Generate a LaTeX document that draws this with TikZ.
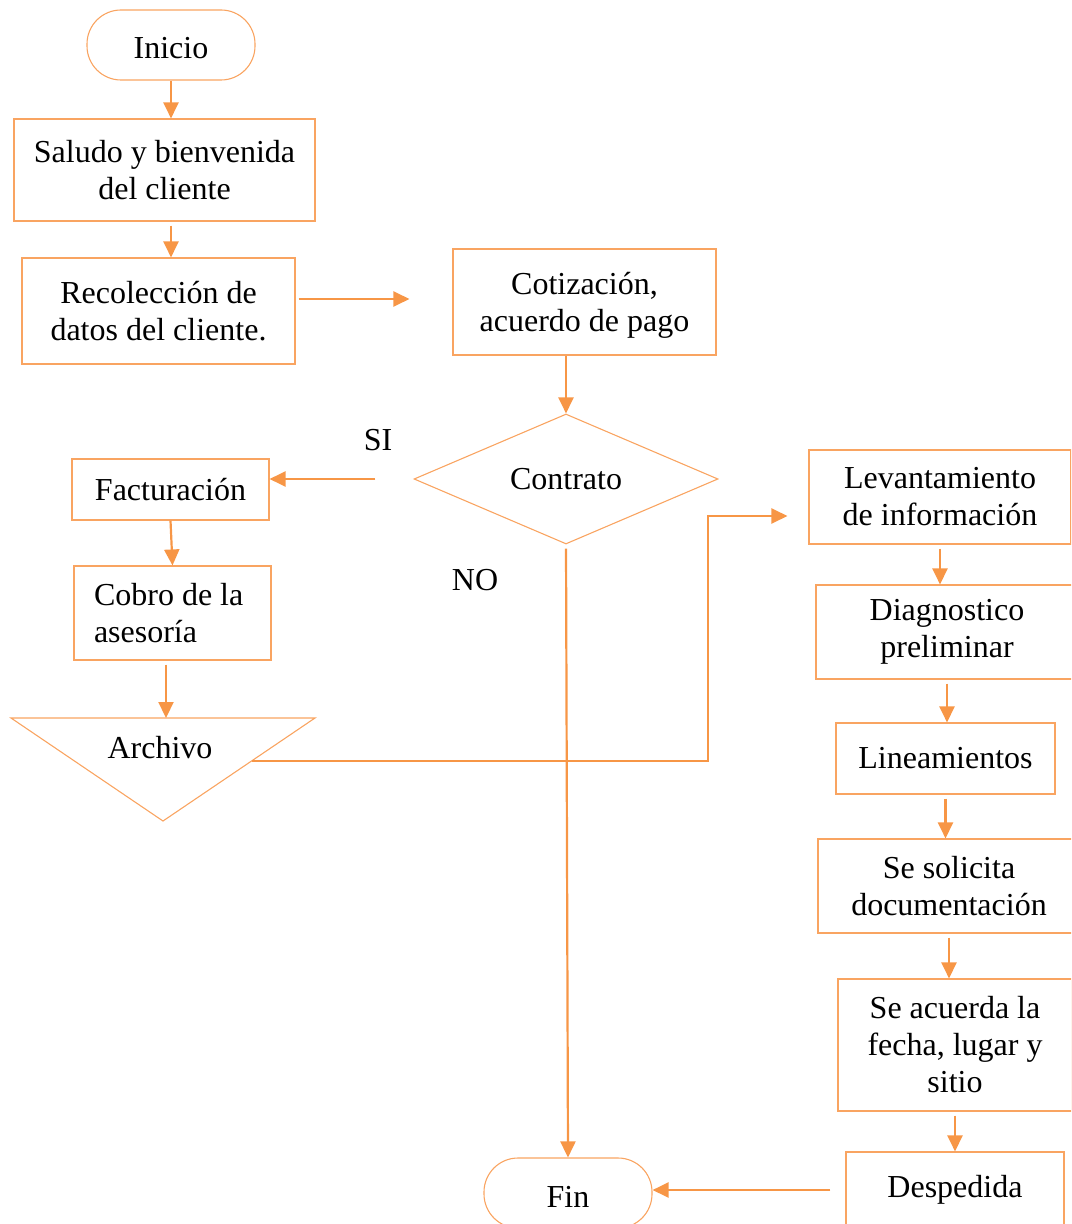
\documentclass[tikz,border=0pt]{standalone}
\usepackage{fontspec}
\setmainfont{Liberation Serif}
\usetikzlibrary{arrows.meta,positioning,shapes.geometric}
\definecolor{flowOrange}{HTML}{F79646}
\definecolor{boxOrange}{HTML}{F9A461}
\tikzset{
  >={Triangle[length=8pt,width=7.5pt]},
  box/.style={rectangle, draw=boxOrange, line width=0.55pt, align=center, inner sep=2pt},
  term/.style={box, rounded corners=17pt, text height=14pt, text depth=0pt},
  flow/.style={->, draw=flowOrange, line width=1.1pt},
  lbl/.style={inner sep=0pt}
}

\begin{document}
\begin{tikzpicture}[x=0.5pt, y=-0.5pt, font=\fontsize{16pt}{18.5pt}\selectfont]
\useasboundingbox (0,0) rectangle (1071,1224);
\clip (0,0) rectangle (1071,1224);

% --- Left column ---
\node[term, minimum width=84pt, minimum height=35pt] (inicio) at (171,45) {Inicio};
\node[box, minimum width=150.5pt, minimum height=51pt] (saludo) at (164.5,170) {Saludo y bienvenida\\del cliente};
\node[box, minimum width=136.5pt, minimum height=53pt] (recol) at (158.5,311) {Recolección de\\datos del cliente.};
\node[box, minimum width=131.5pt, minimum height=53pt, text depth=0pt] (cotiz) at (584.5,302) {Cotización,\\acuerdo de pago};

% --- Decision ---
\node[diamond, aspect=2.3, draw=boxOrange, line width=0.55pt, inner sep=0pt,
      minimum width=152pt, minimum height=65pt] (contrato) at (566,479) {Contrato};
\node[lbl] (si) at (378,440) {SI};
\node[lbl] (no) at (475,580) {NO};

% --- SI branch ---
\node[box, minimum width=98.5pt, minimum height=30.5pt] (factura) at (170.5,489.5) {Facturación};
\node[box, align=flush left, text width=78.5pt, inner xsep=10pt, minimum height=47pt] (cobro) at (172.5,613) {Cobro de la\\asesoría};

% Archivo (triangle)
\draw[boxOrange, line width=0.55pt] (11,718) -- (315,718) -- (163,821) -- cycle;
\node[lbl] (archivo) at (160,748) {Archivo};
\coordinate (archTop) at (166,718);
\coordinate (archOut) at (252,761);
\coordinate (bend) at (708,516);

% --- Right column ---
\node[box, minimum width=131pt, minimum height=47pt] (levant) at (940,497) {Levantamiento\\de información};
\node[box, minimum width=131pt, minimum height=47pt] (diag) at (947,632) {Diagnostico\\preliminar};
\node[box, minimum width=109.5pt, minimum height=35.5pt] (linea) at (945.5,758.5) {Lineamientos};
\node[box, minimum width=131pt, minimum height=47pt] (solic) at (949,886) {Se solicita\\documentación};
\node[box, minimum width=117pt, minimum height=66pt] (acuerda) at (955,1045) {Se acuerda la\\fecha, lugar y\\sitio};
\node[box, minimum width=109pt, minimum height=38pt] (desp) at (955,1190) {Despedida};
\node[term, minimum width=84pt, minimum height=35pt] (fin) at (568,1193) {Fin};

% --- Connectors ---
\draw[flow] (inicio.south) -- (saludo.north -| inicio);
\draw[flow, shorten <=2pt] (saludo.south -| inicio) -- (recol.north -| inicio);
\coordinate (recolOut) at ([yshift=6pt]recol.east);
\draw[flow, shorten <=1.5pt, shorten >=21.5pt] (recolOut) -- (recolOut -| cotiz.west);
\draw[flow] (cotiz.south -| contrato) -- (contrato.north);
\draw[flow, shorten <=19pt] (contrato.west) -- (factura.east |- contrato.west);
\draw[flow] (factura.south) -- (cobro.north);
\draw[flow, shorten <=2pt] (cobro.south -| archTop) -- (archTop);
\draw[flow, shorten >=10.5pt] (archOut) -- (archOut -| bend) -- (bend) -- (levant.west |- bend);
\draw[flow, shorten <=2pt] (contrato.south) -- (fin.north);
\foreach \a/\b in {levant/diag, diag/linea, linea/solic, solic/acuerda, acuerda/desp} {
  \draw[flow, shorten <=2pt] (\a.south) -- (\a.south |- \b.north);
}
\draw[flow, shorten <=7.5pt] (desp.west) -- (fin.east |- desp.west);

\end{tikzpicture}
\end{document}
